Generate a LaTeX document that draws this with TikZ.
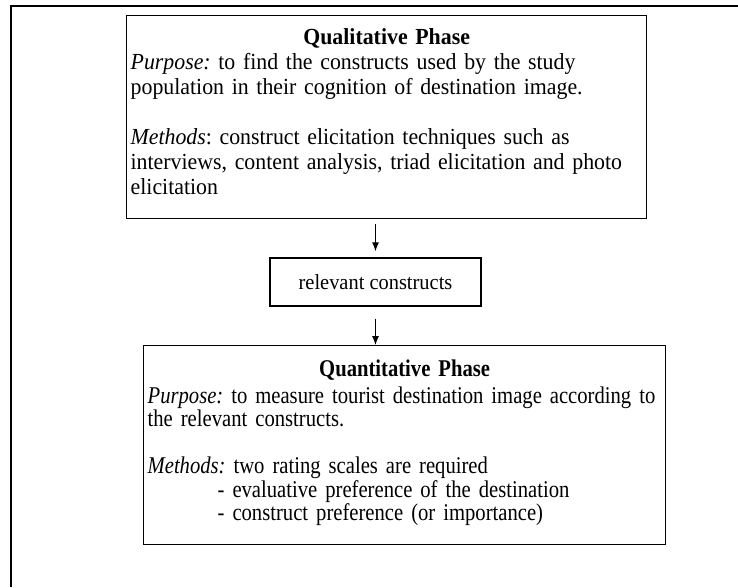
\documentclass[tikz,border=0pt]{standalone}
\usepackage{fontspec}
\setmainfont{Liberation Serif}[FakeStretch=0.95]
\newfontfamily\narrowserif[FakeStretch=0.86]{Liberation Serif}
\usepackage{tikz}
\usetikzlibrary{arrows.meta}

\begin{document}
\frenchspacing
\begin{tikzpicture}[x=1pt,y=-1pt]
	\tikzstyle{every node}=[draw,rectangle,line width=1.3pt]
	\tikzstyle{phasebox}=[anchor=north west,inner xsep=4pt,inner ysep=0pt,align=left]
	\tikzstyle{link}=[-{Latex[length=9pt,width=7pt]},line width=1.1pt]

	\useasboundingbox (0,0) rectangle (738,587);
	\draw[line width=1.6pt] (11,587) |- (738,6);

	\node[phasebox,text width=512pt,minimum height=203pt,font=\fontsize{23}{25}\selectfont] (quali) at (126,15) {%
		\centerline{\textbf{Qualitative Phase}}
		\textit{Purpose:} to find the constructs used by the study\\
		population in their cognition of destination image.\\[25pt]
		\textit{Methods}: construct elicitation techniques such as\\
		interviews, content analysis, triad elicitation and photo\\
		elicitation\rule[-12pt]{0pt}{12pt}
	};

	\node[font=\fontsize{21.5}{24}\selectfont,minimum width=211pt,minimum height=48pt] (rel) at (375.5,282) {relevant constructs};

	\node[phasebox,text width=514pt,minimum height=199pt,font=\narrowserif\fontsize{24}{23.5}\selectfont] (quanti) at (143,345) {%
		\centerline{\textbf{Quantitative Phase}}\vspace{3pt}
		\textit{Purpose:} to measure tourist destination image according to\\
		the relevant constructs.\\[23.5pt]
		\textit{Methods:} two rating scales are required\\
		\hspace*{70pt}- evaluative preference of the destination\\
		\hspace*{70pt}- construct preference (or importance)\rule[-9pt]{0pt}{9pt}
	};

	\draw[link,shorten <=5pt,shorten >=6pt] (quali.south -| rel.north) -- (rel.north);
	\draw[link,shorten <=12pt] (rel.south) -- (rel.south |- quanti.north);
\end{tikzpicture}
\end{document}
